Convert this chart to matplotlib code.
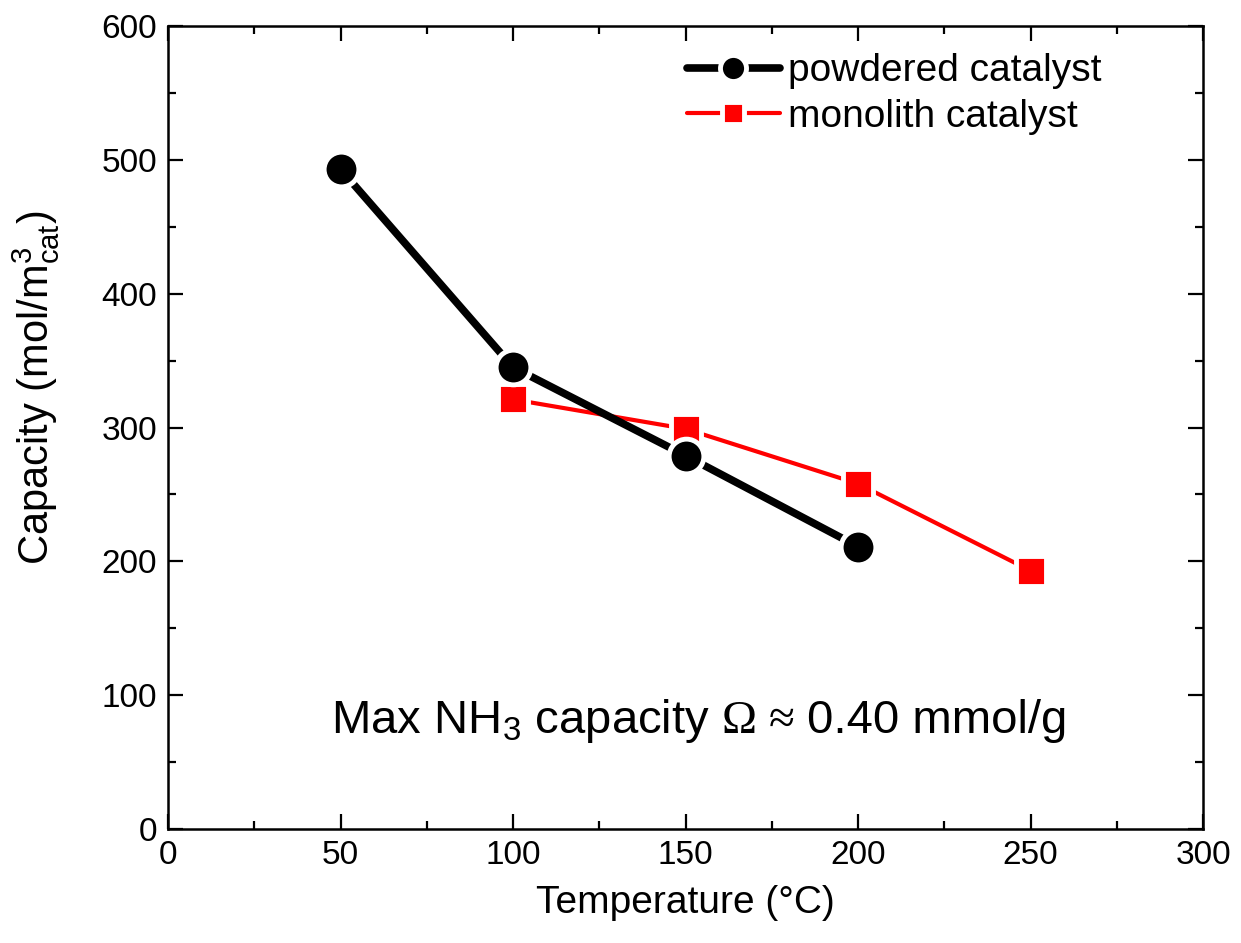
import matplotlib
matplotlib.use("Agg")
import matplotlib.pyplot as plt
from matplotlib.ticker import MultipleLocator

plt.rcParams['font.family'] = ['Liberation Sans', 'DejaVu Sans']
plt.rcParams['mathtext.fontset'] = 'custom'
plt.rcParams['mathtext.rm'] = 'Liberation Sans'
plt.rcParams['mathtext.it'] = 'Liberation Sans:italic'

# Ammonia storage capacity vs temperature
temp_powder = [50, 100, 150, 200]
cap_powder = [493, 345, 279, 211]
temp_monolith = [100, 150, 200, 250]
cap_monolith = [321, 299, 258, 193]

fig = plt.figure(figsize=(12.41, 9.43), dpi=100)
ax = fig.add_axes([0.1354, 0.1209, 0.834, 0.8515])

ax.plot(temp_monolith, cap_monolith, color='red', lw=3, marker='s', ms=21,
        mfc='red', mec='white', mew=3.5, solid_capstyle='round',
        label='monolith catalyst', zorder=2)
ax.plot(temp_powder, cap_powder, color='black', lw=5.5, marker='o', ms=25,
        mfc='black', mec='white', mew=3.5, solid_capstyle='round',
        label='powdered catalyst', zorder=3)

ax.set_xlim(0, 300)
ax.set_ylim(0, 600)
ax.xaxis.set_major_locator(MultipleLocator(50))
ax.xaxis.set_minor_locator(MultipleLocator(25))
ax.yaxis.set_major_locator(MultipleLocator(100))
ax.yaxis.set_minor_locator(MultipleLocator(50))
ax.tick_params(which='both', direction='in', top=True, right=True,
               labelsize=24, width=1.6, pad=8)
ax.tick_params(which='major', length=11)
ax.tick_params(which='minor', length=6)
for s in ax.spines.values():
    s.set_linewidth(1.8)

ax.set_xlabel('Temperature (°C)', fontsize=28, labelpad=10)
ax.set_ylabel(r'Capacity (mol/m$^{3}_{\rm cat}$)', fontsize=30)
ax.yaxis.set_label_coords(-0.102, 0.55)

handles, labels = ax.get_legend_handles_labels()
ax.legend(handles[::-1], labels[::-1], loc='upper right',
          bbox_to_anchor=(0.928, 1.0), frameon=False,
          fontsize=28, handlelength=2.4, handletextpad=0.2, borderaxespad=0.3,
          labelspacing=0.25, markerscale=0.75)

# annotation split so the Greek symbols get a serif face
y0 = 72
t1 = ax.text(47.2, y0, 'Max NH$_3$ capacity', fontsize=34, va='baseline')
t2 = ax.annotate(' Ω ≈ ', xy=(1, y0), xycoords=(t1, 'data'), fontsize=34,
                 va='baseline', family='Liberation Serif')
ax.annotate('0.40 mmol/g', xy=(1, y0), xycoords=(t2, 'data'), fontsize=34,
            va='baseline')

fig.savefig('out.png', dpi=100)
